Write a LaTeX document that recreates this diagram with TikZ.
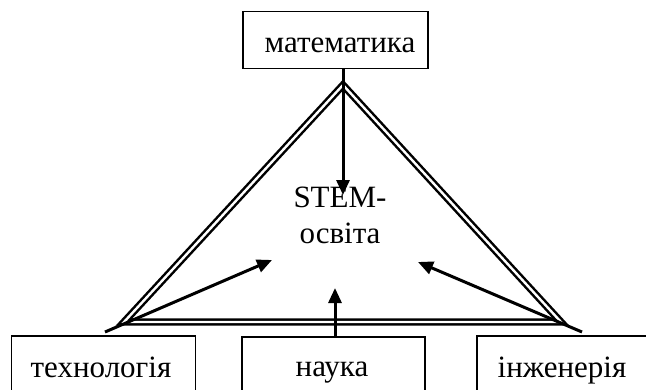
\documentclass[tikz,border=0pt]{standalone}
\usepackage{fontspec}
\setmainfont{Liberation Serif}
\usetikzlibrary{arrows.meta}
\begin{document}
\begin{tikzpicture}[x=1pt,y=-1pt,
  box/.style={draw, line width=1.8pt, inner sep=0pt},
  lbl/.style={font=\fontsize{31}{36}\selectfont, anchor=base, inner sep=0pt},
  arr/.style={line width=3pt, -{Triangle[length=15pt,width=13pt]}},
  tri/.style={double, line width=2.5pt, double distance=2.4pt, line join=miter}]
\useasboundingbox (0,0) rectangle (646,389);
\clip (0,0) rectangle (646,389);
% boxes
\node[box, minimum width=185pt, minimum height=57pt] (mbox) at (335.5,40) {};
\node[box, minimum width=184pt, minimum height=80pt] (tbox) at (103.5,376) {};
\node[box, minimum width=183pt, minimum height=80pt] (nbox) at (333.5,377) {};
\node[box, minimum width=190pt, minimum height=80pt] (ebox) at (572,376) {};
% labels
\node[lbl] (mtxt) at (340,52) {математика};
\node[lbl] (ttxt) at (101,377) {технологія};
\node[lbl] (ntxt) at (332,376) {наука};
\node[lbl] (etxt) at (562,377) {інженерія};
\node[lbl, align=center] (stem) at (340,243) {STEM-\\освіта};
% triangle
\coordinate (apex) at (343,85);
\coordinate (bl) at (124,322);
\coordinate (br) at (561,322);
\draw[tri] (apex) -- (bl) -- (br) -- cycle;
% arrows
\coordinate (ls) at (105,332);
\coordinate (rs) at (582,332);
\coordinate (tt) at (343,195);
\coordinate (lt) at (272,260);
\coordinate (rt) at (418,262);
\coordinate (bt) at (335,288);
\draw[arr] (mbox.south -| apex) -- (tt);
\draw[arr] (ls) -- (lt);
\draw[arr] (rs) -- (rt);
\draw[arr] (nbox.north -| bt) -- (bt);
\end{tikzpicture}
\end{document}
